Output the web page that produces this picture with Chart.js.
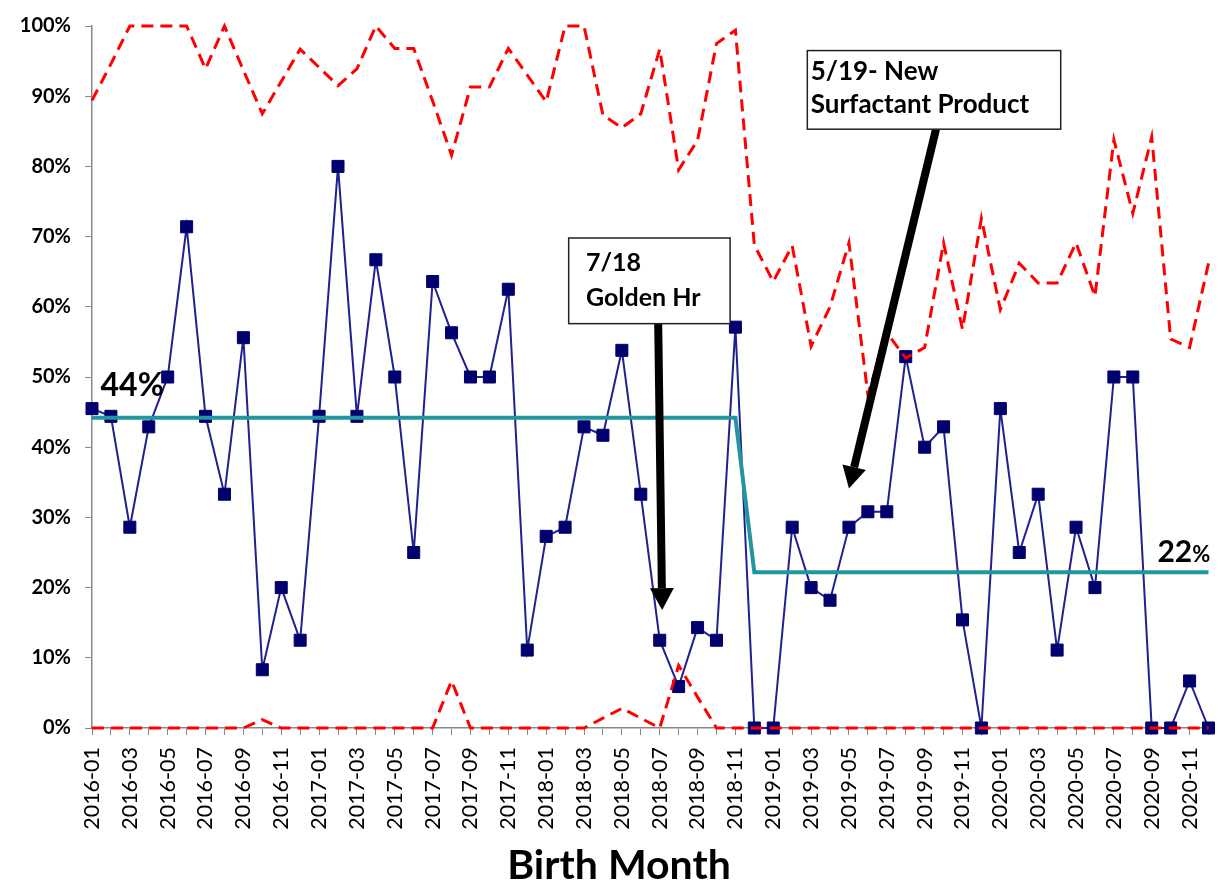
<!DOCTYPE html>
<html>
<head>
<meta charset="utf-8">
<script src="https://cdn.jsdelivr.net/npm/chart.js@4.4.1/dist/chart.umd.min.js"></script>
<style>
  html, body { margin: 0; padding: 0; background: #fff; }
  #wrap { width: 1218px; height: 882px; }
</style>
</head>
<body>
<div id="wrap"><canvas id="spcChart" width="1218" height="882"></canvas></div>
<script>
// Months on the x axis
const months = [
  "2016-01", "2016-02", "2016-03", "2016-04", "2016-05", "2016-06", "2016-07", "2016-08", "2016-09", "2016-10", "2016-11", "2016-12",
  "2017-01", "2017-02", "2017-03", "2017-04", "2017-05", "2017-06", "2017-07", "2017-08", "2017-09", "2017-10", "2017-11", "2017-12",
  "2018-01", "2018-02", "2018-03", "2018-04", "2018-05", "2018-06", "2018-07", "2018-08", "2018-09", "2018-10", "2018-11", "2018-12",
  "2019-01", "2019-02", "2019-03", "2019-04", "2019-05", "2019-06", "2019-07", "2019-08", "2019-09", "2019-10", "2019-11", "2019-12",
  "2020-01", "2020-02", "2020-03", "2020-04", "2020-05", "2020-06", "2020-07", "2020-08", "2020-09", "2020-10", "2020-11", "2020-12"
];

// Monthly rate (%)
const rate = [
  45.5, 44.4, 28.6, 42.9, 50.0, 71.4, 44.4, 33.3, 55.6, 8.3, 20.0, 12.5,
  44.4, 80.0, 44.4, 66.7, 50.0, 25.0, 63.6, 56.3, 50.0, 50.0, 62.5, 11.1,
  27.3, 28.6, 42.9, 41.7, 53.8, 33.3, 12.5, 5.9, 14.3, 12.5, 57.1, 0,
  0, 28.6, 20.0, 18.2, 28.6, 30.8, 30.8, 52.9, 40.0, 42.9, 15.4, 0,
  45.5, 25.0, 33.3, 11.1, 28.6, 20.0, 50.0, 50.0, 0, 0, 6.7, 0
];

// Upper control limit (%)
const ucl = [
  89.4, 94.6, 100, 100, 100, 100, 93.9, 100, 93.7, 87.5, 92.1, 96.7,
  94.1, 91.5, 93.9, 100, 96.8, 96.8, 89.3, 81.6, 91.3, 91.3, 96.8, 93.0,
  89.2, 100, 100, 87.3, 85.5, 87.5, 96.7, 79.5, 83.7, 97.5, 99.4, 68.8,
  63.6, 68.7, 54.4, 60.0, 69.1, 47.5, 56.3, 52.7, 54.2, 69.1, 56.8, 72.6,
  59.6, 66.2, 63.4, 63.4, 69.1, 61.5, 83.8, 73.3, 84.2, 55.4, 54.2, 66.2
];

// Lower control limit (%)
const lcl = [
  0, 0, 0, 0, 0, 0, 0, 0, 0, 1.2, 0, 0,
  0, 0, 0, 0, 0, 0, 0, 6.7, 0, 0, 0, 0,
  0, 0, 0, 1.4, 2.8, 1.4, 0, 8.9, 4.4, 0, 0, 0,
  0, 0, 0, 0, 0, 0, 0, 0, 0, 0, 0, 0,
  0, 0, 0, 0, 0, 0, 0, 0, 0, 0, 0, 0
];

// Center line (%), 44% before the shift, 22% after
const center = [
  44.2, 44.2, 44.2, 44.2, 44.2, 44.2, 44.2, 44.2, 44.2, 44.2, 44.2, 44.2,
  44.2, 44.2, 44.2, 44.2, 44.2, 44.2, 44.2, 44.2, 44.2, 44.2, 44.2, 44.2,
  44.2, 44.2, 44.2, 44.2, 44.2, 44.2, 44.2, 44.2, 44.2, 44.2, 44.2, 22.2,
  22.2, 22.2, 22.2, 22.2, 22.2, 22.2, 22.2, 22.2, 22.2, 22.2, 22.2, 22.2,
  22.2, 22.2, 22.2, 22.2, 22.2, 22.2, 22.2, 22.2, 22.2, 22.2, 22.2, 22.2
];

const yTicks = [0, 10, 20, 30, 40, 50, 60, 70, 80, 90, 100];

const FONT = "Lato, 'Open Sans', sans-serif";

function drawArrow(ctx, x1, y1, x2, y2) {
  const ang = Math.atan2(y2 - y1, x2 - x1);
  const headLen = 22, headW = 12;
  const bx = x2 - Math.cos(ang) * headLen;
  const by = y2 - Math.sin(ang) * headLen;
  ctx.save();
  ctx.strokeStyle = "#000";
  ctx.fillStyle = "#000";
  ctx.lineWidth = 8;
  ctx.beginPath();
  ctx.moveTo(x1, y1);
  ctx.lineTo(bx, by);
  ctx.stroke();
  ctx.beginPath();
  ctx.moveTo(x2, y2);
  ctx.lineTo(bx + Math.sin(ang) * headW, by - Math.cos(ang) * headW);
  ctx.lineTo(bx - Math.sin(ang) * headW, by + Math.cos(ang) * headW);
  ctx.closePath();
  ctx.fill();
  ctx.restore();
}

function drawBox(ctx, x1, y1, x2, y2) {
  ctx.save();
  ctx.fillStyle = "#fff";
  ctx.fillRect(x1, y1, x2 - x1, y2 - y1);
  ctx.strokeStyle = "#222";
  ctx.lineWidth = 1.5;
  ctx.strokeRect(x1, y1, x2 - x1, y2 - y1);
  ctx.restore();
}

// Notes: boxes, arrows, center line labels, axis title
const notesPlugin = {
  id: "notes",
  afterDatasetsDraw(chart) {
    const ctx = chart.ctx;
    const x = chart.scales.x;
    const y = chart.scales.y;
    const px = (v) => x.getPixelForValue(v);
    const py = (v) => y.getPixelForValue(v);

    // 7/18 Golden Hr
    drawArrow(ctx, px(29.92), py(57.6), px(30.13), py(16.8));
    drawBox(ctx, px(25.19), py(69.8), px(33.72), py(57.6));

    // 5/19 New Surfactant Product
    drawArrow(ctx, px(44.6), py(85.3), px(40.0), py(34.1));
    drawBox(ctx, px(37.8), py(96.5), px(51.19), py(85.3));

    ctx.save();
    ctx.fillStyle = "#000";
    ctx.textAlign = "left";
    ctx.textBaseline = "alphabetic";
    ctx.font = "bold 25px " + FONT;
    ctx.fillText("7/18", px(26.1), py(65.1));
    ctx.fillText("Golden Hr", px(26.1), py(60.1));
    ctx.font = "bold 26px " + FONT;
    ctx.fillText("5/19- New", px(37.98), py(92.3));
    ctx.fillText("Surfactant Product", px(37.98), py(87.6));

    // center line values
    ctx.font = "bold 32px " + FONT;
    ctx.fillText("44%", px(0.45), py(47.3));
    ctx.font = "bold 30px " + FONT;
    const w22 = ctx.measureText("22").width;
    ctx.fillText("22", px(56.3), py(23.6));
    ctx.font = "bold 22px " + FONT;
    ctx.fillText("%", px(56.3) + w22, py(23.6));

    // x axis title
    ctx.font = "bold 41px " + FONT;
    ctx.textAlign = "center";
    ctx.fillText("Birth Month", 619, 879);
    ctx.restore();
  }
};

const ctx = document.getElementById("spcChart").getContext("2d");
const spcChart = new Chart(ctx, {
  type: "line",
  data: {
    labels: months,
    datasets: [
      {
        label: "UCL",
        data: ucl,
        borderColor: "#ff0000",
        borderWidth: 3,
        borderDash: [12, 7],
        pointRadius: 0,
        fill: false,
        tension: 0,
        clip: false,
        order: 0,
      },
      {
        label: "LCL",
        data: lcl,
        borderColor: "#ff0000",
        borderWidth: 3,
        borderDash: [12, 7],
        pointRadius: 0,
        fill: false,
        tension: 0,
        clip: false,
        order: 0,
      },
      {
        label: "Center",
        data: center,
        borderColor: "#2196a0",
        borderWidth: 4,
        pointRadius: 0,
        fill: false,
        tension: 0,
        clip: false,
        order: 1,
      },
      {
        label: "Rate",
        data: rate,
        borderColor: "#20208f",
        borderWidth: 2,
        pointStyle: "rect",
        pointRadius: 8.5,
        pointBackgroundColor: "#00006e",
        pointBorderColor: "#00006e",
        pointBorderWidth: 1,
        fill: false,
        tension: 0,
        clip: false,
        order: 2,
      },
    ],
  },
  options: {
    responsive: false,
    animation: false,
    layout: {
      padding: { top: 24, right: 8, left: 0, bottom: 0 },
    },
    plugins: {
      legend: { display: false },
      tooltip: { enabled: false },
    },
    scales: {
      x: {
        ticks: {
          autoSkip: false,
          maxRotation: 90,
          minRotation: 90,
          padding: 12,
          color: "#000",
          font: { family: FONT, size: 21.5 },
          callback: (v, i) => (i % 2 === 0 ? months[i] : ""),
        },
        grid: {
          drawOnChartArea: false,
          drawTicks: true,
          tickLength: 7,
          color: "#888",
        },
        border: { color: "#888", width: 1.5 },
        afterFit: (scale) => {
          scale.height = 154;
          scale.paddingLeft = 0;
          scale.paddingRight = 0;
        },
      },
      y: {
        min: 0,
        max: 100,
        afterBuildTicks: (scale) => {
          scale.ticks = yTicks.map((v) => ({ value: v }));
        },
        ticks: {
          padding: 14,
          color: "#000",
          font: { family: FONT, size: 20, weight: "bold" },
          callback: (v) => v + "%",
        },
        grid: {
          drawOnChartArea: false,
          drawTicks: true,
          tickLength: 7,
          color: "#888",
        },
        border: { color: "#888", width: 1.5 },
        afterFit: (scale) => {
          scale.width = 92;
        },
      },
    },
  },
  plugins: [notesPlugin],
});
</script>
</body>
</html>
